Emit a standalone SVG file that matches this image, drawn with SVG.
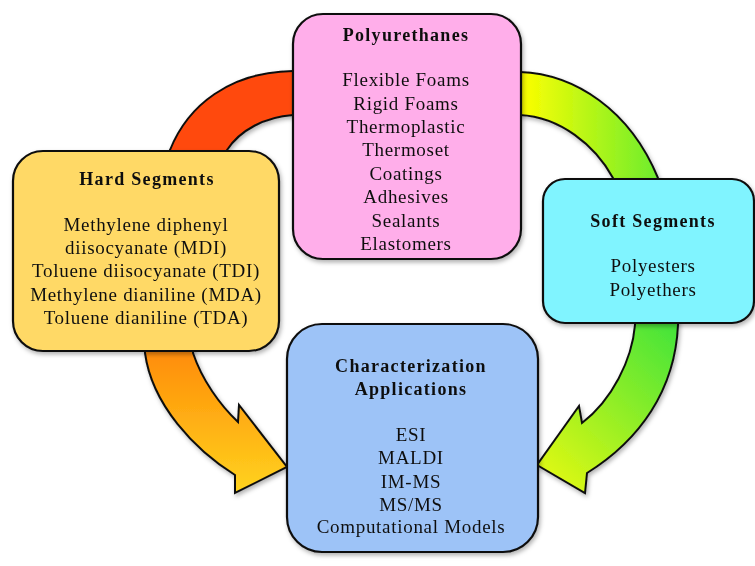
<svg xmlns="http://www.w3.org/2000/svg" width="755" height="566" viewBox="0 0 755 566">
<defs>
<style>
.box{stroke:#111;stroke-width:2.2}
.arr{stroke:#111;stroke-width:2;stroke-linejoin:miter}
text{font-family:"Liberation Serif","Times New Roman",serif;fill:#111;text-anchor:middle}
.t{font-size:18px;font-weight:bold;letter-spacing:1.3px}
.b{font-size:19px;letter-spacing:0.7px}
</style>
<filter id="sh" x="-10%" y="-10%" width="120%" height="120%">
<feDropShadow dx="1.5" dy="2.5" stdDeviation="2" flood-color="#000" flood-opacity="0.3"/>
</filter>
<linearGradient id="gYG" gradientUnits="userSpaceOnUse" x1="520" y1="0" x2="665" y2="0">
<stop offset="0" stop-color="#FFFF00"/><stop offset="1" stop-color="#66EC30"/>
</linearGradient>
<linearGradient id="gOr" gradientUnits="userSpaceOnUse" x1="0" y1="350" x2="0" y2="490">
<stop offset="0" stop-color="#FF8C08"/><stop offset="1" stop-color="#FFD21E"/>
</linearGradient>
<linearGradient id="gGr" gradientUnits="userSpaceOnUse" x1="680" y1="330" x2="545" y2="470">
<stop offset="0" stop-color="#44E43A"/><stop offset="1" stop-color="#DCF814"/>
</linearGradient>
</defs>
<rect width="755" height="566" fill="#fff"/>
<g id="connectors" filter="url(#sh)">
<path class="arr" fill="#FF4A0A" d="M166,158 L170,150 C188,105 230,72 293,71 L300,71 L300,115 L293,115 C265,117 240,130 227,150 L224,158 Z"/>
<path class="arr" fill="url(#gYG)" d="M514,72 L520,72 C575,74 630,110 658,178 L662,186 L616,186 L613,178 C595,145 560,117 520,115 L514,115 Z"/>
<path class="arr" fill="url(#gOr)" d="M145,345 L145,353 C152,405 195,450 235,475 L235,493 L287,467 L239,405 L238,422 C220,405 202,380 193,353 L193,345 Z"/>
<path class="arr" fill="url(#gGr)" d="M635,318 L635,325 C632,360 612,400 582,423 L579,406 L537,465 L585,493 L587,473 C640,440 675,390 678,325 L678,318 Z"/>
</g>
<g id="polyurethanes" filter="url(#sh)">
<rect class="box" x="293" y="14" width="228" height="245" rx="30" fill="#FFAEEA"/>
<text class="t" x="406" y="41">Polyurethanes</text>
<text class="b" x="406" y="86">Flexible Foams</text>
<text class="b" x="406" y="109.5">Rigid Foams</text>
<text class="b" x="406" y="133">Thermoplastic</text>
<text class="b" x="406" y="156.3">Thermoset</text>
<text class="b" x="406" y="179.7">Coatings</text>
<text class="b" x="406" y="203.1">Adhesives</text>
<text class="b" x="406" y="226.6">Sealants</text>
<text class="b" x="406" y="250">Elastomers</text>
</g>
<g id="hard-segments" filter="url(#sh)">
<rect class="box" x="13" y="151" width="266" height="200" rx="30" fill="#FFD966"/>
<text class="t" x="147" y="185">Hard Segments</text>
<text class="b" x="146" y="231">Methylene diphenyl</text>
<text class="b" x="146" y="254">diisocyanate (MDI)</text>
<text class="b" x="146" y="277">Toluene diisocyanate (TDI)</text>
<text class="b" x="146" y="301">Methylene dianiline (MDA)</text>
<text class="b" x="146" y="324">Toluene dianiline (TDA)</text>
</g>
<g id="soft-segments" filter="url(#sh)">
<rect class="box" x="543" y="179" width="211" height="144" rx="22" fill="#80F4FF"/>
<text class="t" x="653" y="227">Soft Segments</text>
<text class="b" x="653" y="272">Polyesters</text>
<text class="b" x="653" y="296">Polyethers</text>
</g>
<g id="characterization" filter="url(#sh)">
<rect class="box" x="287" y="324" width="251" height="228" rx="35" fill="#9DC3F7"/>
<text class="t" x="411" y="372">Characterization</text>
<text class="t" x="411" y="395">Applications</text>
<text class="b" x="411" y="441">ESI</text>
<text class="b" x="411" y="464">MALDI</text>
<text class="b" x="411" y="488">IM-MS</text>
<text class="b" x="411" y="511">MS/MS</text>
<text class="b" x="411" y="533">Computational Models</text>
</g>
</svg>
